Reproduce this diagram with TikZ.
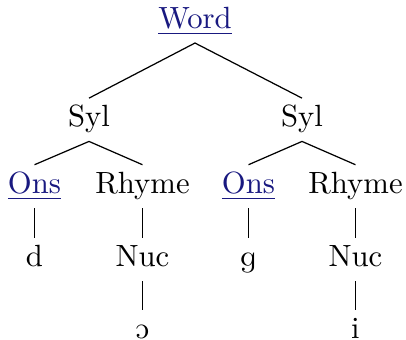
\documentclass[tikz,border=0pt]{standalone}
\usepackage{tipa}
\definecolor{linkblue}{rgb}{0.1,0.1,0.5}
\newcommand{\lnk}[1]{\textcolor{linkblue}{\underline{#1}}}
\begin{document}
\begin{tikzpicture}[x=0.3257pt,y=-0.3257pt,
  lab/.style={anchor=base,inner xsep=1pt,inner ysep=2.1pt,
              text height=7pt,text depth=2.5pt},
  br/.style={line width=0.4pt}]
\useasboundingbox (0,0) rectangle (406,340);
% tree nodes
\node[lab] (word) at (195,28.3) {\lnk{Word}};
\node[lab] (syl1) at (89,126.7) {Syl};
\node[lab] (syl2) at (302,126.7) {Syl};
\node[lab] (ons1) at (34.5,193.3) {\lnk{Ons}};
\node[lab] (rhy1) at (142.5,193.3) {Rhyme};
\node[lab] (ons2) at (248.5,193.3) {\lnk{Ons}};
\node[lab] (rhy2) at (355.5,193.3) {Rhyme};
\node[lab] (d) at (34.5,266.7) {d};
\node[lab] (nuc1) at (142.5,266.7) {Nuc};
\node[lab] (g) at (248.5,266.7) {\textipa{g}};
\node[lab] (nuc2) at (355.5,266.7) {Nuc};
\node[lab] (o) at (142.5,338.3) {\textipa{O}};
\node[lab] (i) at (355.5,338.3) {i};
% branches
\draw[br] (syl1.north) -- (word.south) -- (syl2.north);
\draw[br] (ons1.north) -- (syl1.south) -- (rhy1.north);
\draw[br] (ons2.north) -- (syl2.south) -- (rhy2.north);
\draw[br] (ons1.south) -- (d.north);
\draw[br] (rhy1.south) -- (nuc1.north);
\draw[br] (nuc1.south) -- (o.north);
\draw[br] (ons2.south) -- (g.north);
\draw[br] (rhy2.south) -- (nuc2.north);
\draw[br] (nuc2.south) -- (i.north);
\end{tikzpicture}
\end{document}
